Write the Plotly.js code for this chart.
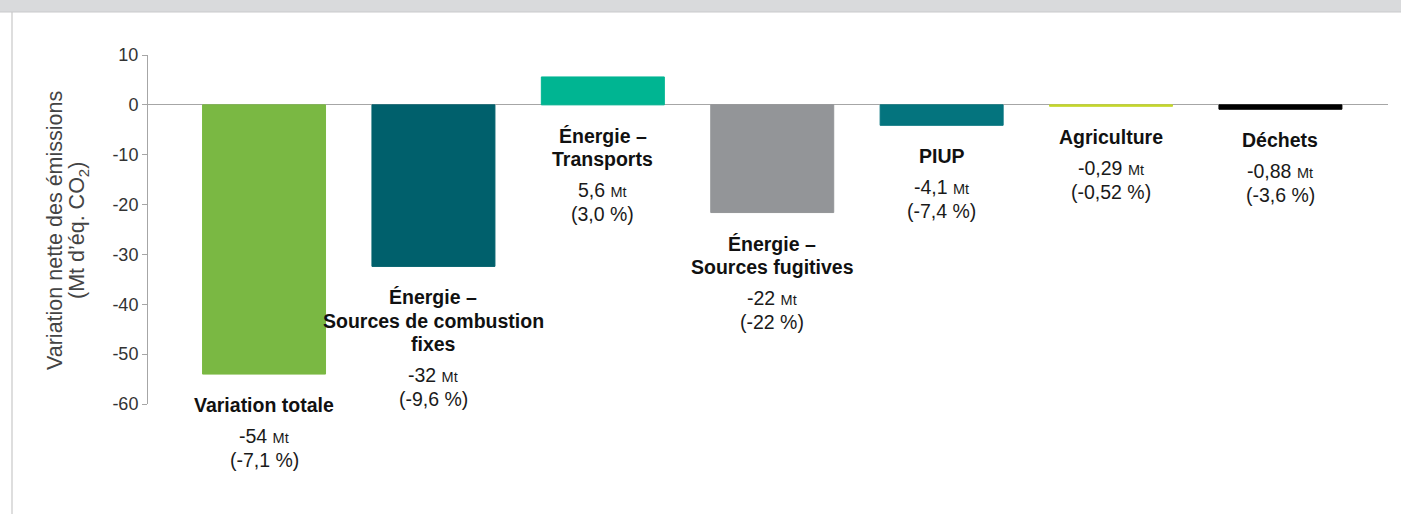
<!DOCTYPE html>
<html>
<head>
<meta charset="utf-8">
<script src="https://cdn.plot.ly/plotly-3.0.1.min.js"></script>
<style>
  html, body { margin: 0; padding: 0; background: #ffffff; }
  #chart { width: 1401px; height: 514px; }
</style>
</head>
<body>
<div id="chart"></div>
<script>
// ---- data ----
const categories = ['Variation totale', 'Combustion fixes', 'Transports', 'Sources fugitives', 'PIUP', 'Agriculture', 'Déchets'];
const labelLines = [
  ['Variation totale'],
  ['Énergie –', 'Sources de combustion', 'fixes'],
  ['Énergie –', 'Transports'],
  ['Énergie –', 'Sources fugitives'],
  ['PIUP'],
  ['Agriculture'],
  ['Déchets']
];
const values = [-54, -32.4, 5.6, -21.6, -4.1, -0.29, -0.88];
const valueText = ['-54', '-32', '5,6', '-22', '-4,1', '-0,29', '-0,88'];
const pctText = ['-7,1', '-9,6', '3,0', '-22', '-7,4', '-0,52', '-3,6'];
const colors = ['#7AB843', '#00606C', '#00B592', '#939598', '#04747E', '#C5D82B', '#000000'];
const yTicks = [10, 0, -10, -20, -30, -40, -50, -60];
const yTitleLines = ['Variation nette des émissions', '(Mt d’éq. CO<sub>2</sub>)'];

// ---- layout constants ----
const W = 1401, H = 514;
const M = { l: 148, r: 13, t: 55, b: 110 };
const plotW = W - M.l - M.r, plotH = H - M.t - M.b;
const px2x = p => (p - M.l) / plotW;
const py2y = p => (H - M.b - p) / plotH;
const FONT = 'Arial, "Liberation Sans", sans-serif';
const labFont = 19.5;
const titleStep = 23.5, valueStep = 24, firstGap = 31, valueGap = 31;

const trace = {
  type: 'bar',
  x: categories,
  y: values,
  width: 0.726,
  marker: { color: colors, line: { color: colors, width: 1 } },
  hoverinfo: 'x+y'
};

const annotations = [];
categories.forEach((c, i) => {
  const base = Math.min(values[i], 0);
  const lines = labelLines[i];
  lines.forEach((t, k) => {
    annotations.push({
      x: c, y: base, xref: 'x', yref: 'y',
      text: '<b>' + t + '</b>',
      showarrow: false, yanchor: 'middle', xanchor: 'center',
      yshift: -(firstGap + k * titleStep),
      font: { family: FONT, size: labFont, color: '#111111' }
    });
  });
  const v0 = firstGap + (lines.length - 1) * titleStep + valueGap;
  const vLines = [valueText[i] + ' <span style="font-size:14.5px">Mt</span>', '(' + pctText[i] + ' %)'];
  vLines.forEach((t, j) => {
    annotations.push({
      x: c, y: base, xref: 'x', yref: 'y',
      text: t,
      showarrow: false, yanchor: 'middle', xanchor: 'center',
      yshift: -(v0 + j * valueStep),
      font: { family: FONT, size: labFont, color: '#1a1a1a' }
    });
  });
});

// rotated y-axis title, two lines
const yTitleX = [55, 78];
yTitleLines.forEach((t, k) => {
  annotations.push({
    xref: 'paper', yref: 'paper', x: px2x(yTitleX[k]), y: py2y(231),
    text: t, textangle: -90, showarrow: false,
    xanchor: 'center', yanchor: 'middle',
    font: { family: FONT, size: 21.5, color: '#444444' }
  });
});

const shapes = [
  // grey header band
  { type: 'rect', xref: 'paper', yref: 'paper', x0: px2x(-5), x1: px2x(W + 5), y0: py2y(12), y1: py2y(-5),
    fillcolor: '#D9DADC', line: { width: 0 }, layer: 'below' },
  { type: 'line', xref: 'paper', yref: 'paper', x0: px2x(0), x1: px2x(W), y0: py2y(12), y1: py2y(12),
    line: { color: '#C9CACC', width: 1 } },
  // left frame line
  { type: 'line', xref: 'paper', yref: 'paper', x0: px2x(12), x1: px2x(12), y0: py2y(12), y1: py2y(H + 5),
    line: { color: '#C8C8C8', width: 1.2 } }
];

const layout = {
  width: W, height: H,
  margin: M,
  paper_bgcolor: '#ffffff', plot_bgcolor: '#ffffff',
  showlegend: false,
  font: { family: FONT, color: '#333333' },
  xaxis: {
    type: 'category', range: [-0.685, 6.635],
    showticklabels: false, showline: false, showgrid: false, zeroline: false, ticks: ''
  },
  yaxis: {
    range: [-60, 10], tickvals: yTicks, ticktext: yTicks.map(String),
    showgrid: false, showline: true, linecolor: '#A6A6A6', linewidth: 1,
    ticks: 'outside', ticklen: 5, tickcolor: '#A6A6A6',
    zeroline: true, zerolinecolor: '#A6A6A6', zerolinewidth: 1,
    tickfont: { family: FONT, size: 18, color: '#333333' }
  },
  annotations: annotations,
  shapes: shapes
};

Plotly.newPlot('chart', [trace], layout, { displayModeBar: false, staticPlot: true });
</script>
</body>
</html>
